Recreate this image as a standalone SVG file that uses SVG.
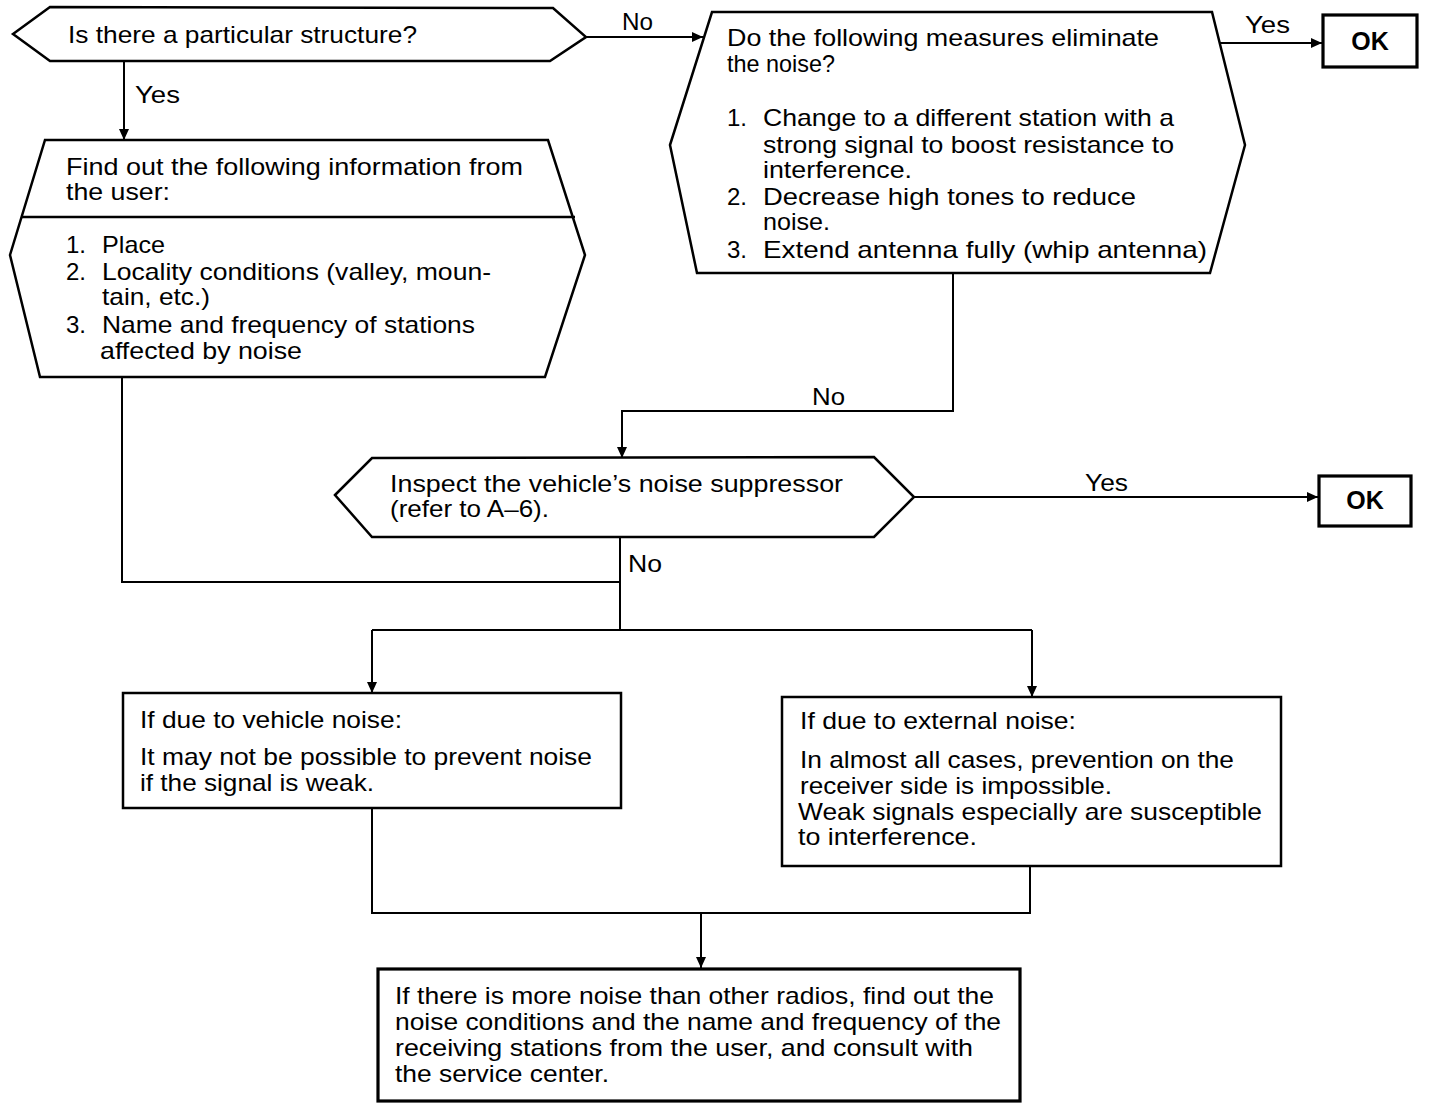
<svg xmlns="http://www.w3.org/2000/svg" width="1440" height="1110" viewBox="0 0 1440 1110">
<style>
.n{fill:#fff;stroke:#000;stroke-width:2.5}
.b{fill:#fff;stroke:#000;stroke-width:3.2}
.c{fill:none;stroke:#000;stroke-width:2}
text{font-family:"Liberation Sans",Arial,sans-serif;font-size:24px;fill:#000}
.l{font-size:23px}
.ok{font-size:25px;font-weight:bold;text-anchor:middle}
</style>
<defs>
<marker id="a" viewBox="0 0 11 10" refX="11" refY="5" markerWidth="11" markerHeight="10" markerUnits="userSpaceOnUse" orient="auto">
<path d="M0,0 L11,5 L0,10 Z" fill="#000"/>
</marker>
</defs>
<rect width="1440" height="1110" fill="#fff"/>
<g id="connectors">
<path class="c" d="M586,37 H703" marker-end="url(#a)"/>
<path class="c" d="M1216,43 H1322" marker-end="url(#a)"/>
<path class="c" d="M124,62 V140" marker-end="url(#a)"/>
<path class="c" d="M953,273 V411 H622 V458" marker-end="url(#a)"/>
<path class="c" d="M914,497 H1318" marker-end="url(#a)"/>
<path class="c" d="M122,377 V582 H620"/>
<path class="c" d="M620,536 V630"/>
<path class="c" d="M372,630 H1032"/>
<path class="c" d="M372,630 V693" marker-end="url(#a)"/>
<path class="c" d="M1032,630 V697" marker-end="url(#a)"/>
<path class="c" d="M372,808 V913 H1030 V866"/>
<path class="c" d="M701,913 V968" marker-end="url(#a)"/>
<text class="l" x="622" y="30" textLength="31" lengthAdjust="spacingAndGlyphs">No</text>
<text class="l" x="1245" y="33" textLength="45" lengthAdjust="spacingAndGlyphs">Yes</text>
<text class="l" x="135" y="103" textLength="45" lengthAdjust="spacingAndGlyphs">Yes</text>
<text class="l" x="812" y="405" textLength="33" lengthAdjust="spacingAndGlyphs">No</text>
<text class="l" x="1085" y="491" textLength="43" lengthAdjust="spacingAndGlyphs">Yes</text>
<text class="l" x="628" y="572" textLength="34" lengthAdjust="spacingAndGlyphs">No</text>
</g>
<g id="q1">
<polygon class="n" points="13,34 50,7 553,8 586,37 550,61 50,61"/>
<text x="68" y="43" textLength="349" lengthAdjust="spacingAndGlyphs">Is there a particular structure?</text>
</g>
<g id="q2">
<polygon class="n" points="670,145 712,12 1212,12 1245,145 1210,273 697,273"/>
<text x="727" y="46" textLength="432" lengthAdjust="spacingAndGlyphs">Do the following measures eliminate</text>
<text x="727" y="72" textLength="108" lengthAdjust="spacingAndGlyphs">the noise?</text>
<text x="727" y="126">1.</text>
<text x="763" y="126" textLength="411" lengthAdjust="spacingAndGlyphs">Change to a different station with a</text>
<text x="763" y="153" textLength="411" lengthAdjust="spacingAndGlyphs">strong signal to boost resistance to</text>
<text x="763" y="178" textLength="149" lengthAdjust="spacingAndGlyphs">interference.</text>
<text x="727" y="205">2.</text>
<text x="763" y="205" textLength="373" lengthAdjust="spacingAndGlyphs">Decrease  high  tones  to  reduce</text>
<text x="763" y="230" textLength="67" lengthAdjust="spacingAndGlyphs">noise.</text>
<text x="727" y="258">3.</text>
<text x="763" y="258" textLength="444" lengthAdjust="spacingAndGlyphs">Extend  antenna  fully  (whip antenna)</text>
</g>
<g id="ok1">
<rect class="b" x="1323" y="15" width="94" height="52"/>
<text class="ok" x="1370" y="50">OK</text>
</g>
<g id="info">
<polygon class="n" points="10,255 45,140 548,140 585,255 545,377 40,377"/>
<line class="n" x1="22" y1="217" x2="575" y2="217"/>
<text x="66" y="175" textLength="457" lengthAdjust="spacingAndGlyphs">Find out the following information from</text>
<text x="66" y="200" textLength="104" lengthAdjust="spacingAndGlyphs">the user:</text>
<text x="66" y="253">1.</text>
<text x="102" y="253" textLength="63" lengthAdjust="spacingAndGlyphs">Place</text>
<text x="66" y="280">2.</text>
<text x="102" y="280" textLength="389" lengthAdjust="spacingAndGlyphs">Locality conditions (valley, moun-</text>
<text x="102" y="305" textLength="108" lengthAdjust="spacingAndGlyphs">tain, etc.)</text>
<text x="66" y="333">3.</text>
<text x="102" y="333" textLength="373" lengthAdjust="spacingAndGlyphs">Name and frequency of stations</text>
<text x="100" y="359" textLength="202" lengthAdjust="spacingAndGlyphs">affected by noise</text>
</g>
<g id="q3">
<polygon class="n" points="335,495 372,458 874,457 914,497 874,537 372,537"/>
<text x="390" y="492" textLength="453" lengthAdjust="spacingAndGlyphs">Inspect the vehicle’s noise suppressor</text>
<text x="390" y="517" textLength="159" lengthAdjust="spacingAndGlyphs">(refer to A–6).</text>
</g>
<g id="ok2">
<rect class="b" x="1319" y="476" width="92" height="50"/>
<text class="ok" x="1365" y="509">OK</text>
</g>
<g id="vehicle">
<rect class="n" x="123" y="693" width="498" height="115"/>
<text x="140" y="728" textLength="262" lengthAdjust="spacingAndGlyphs">If due to vehicle noise:</text>
<text x="140" y="765" textLength="452" lengthAdjust="spacingAndGlyphs">It may not be possible to prevent noise</text>
<text x="140" y="791" textLength="234" lengthAdjust="spacingAndGlyphs">if the signal is weak.</text>
</g>
<g id="external">
<rect class="n" x="782" y="697" width="499" height="169"/>
<text x="800" y="729" textLength="276" lengthAdjust="spacingAndGlyphs">If due to external noise:</text>
<text x="800" y="768" textLength="434" lengthAdjust="spacingAndGlyphs">In almost all cases, prevention on the</text>
<text x="800" y="794" textLength="312" lengthAdjust="spacingAndGlyphs">receiver side is impossible.</text>
<text x="798" y="820" textLength="464" lengthAdjust="spacingAndGlyphs">Weak signals especially are susceptible</text>
<text x="798" y="845" textLength="179" lengthAdjust="spacingAndGlyphs">to interference.</text>
</g>
<g id="consult">
<rect class="b" x="378" y="969" width="642" height="132"/>
<text x="395" y="1004" textLength="599" lengthAdjust="spacingAndGlyphs">If there is more noise than other radios, find out the</text>
<text x="395" y="1030" textLength="606" lengthAdjust="spacingAndGlyphs">noise conditions and the name and frequency of the</text>
<text x="395" y="1056" textLength="578" lengthAdjust="spacingAndGlyphs">receiving stations from the user, and consult with</text>
<text x="395" y="1082" textLength="214" lengthAdjust="spacingAndGlyphs">the service center.</text>
</g>
</svg>
